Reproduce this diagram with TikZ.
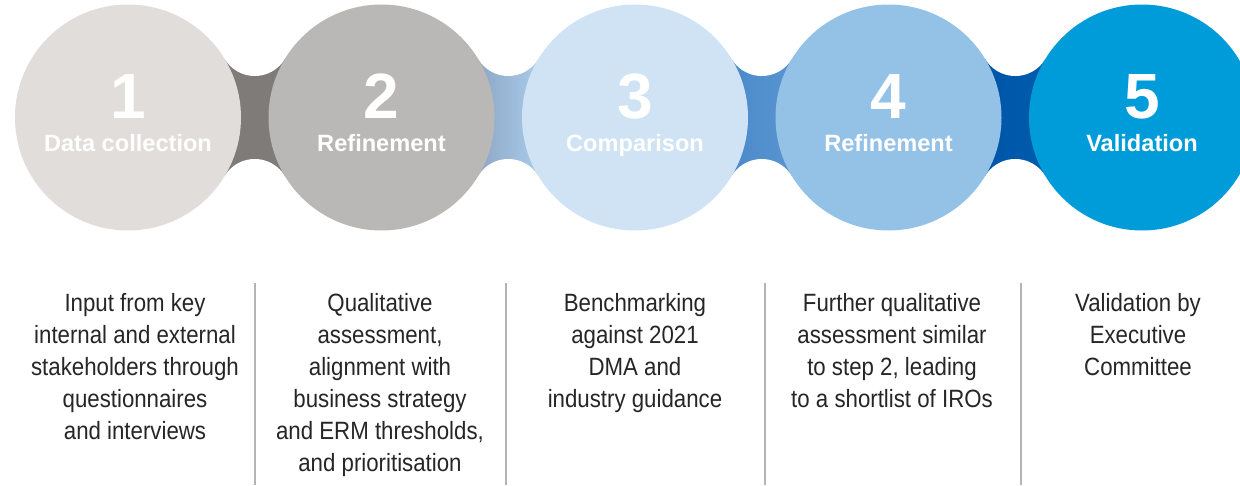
\documentclass[tikz,border=0pt]{standalone}
\usepackage{fontspec}
\setmainfont{Liberation Sans}
\newfontfamily\bodyfont[FakeStretch=0.89]{Liberation Sans}
\usetikzlibrary{calc}

\definecolor{stepA}{HTML}{E1DDDA}
\definecolor{stepB}{HTML}{B9B8B6}
\definecolor{stepC}{HTML}{D0E3F4}
\definecolor{stepD}{HTML}{94C2E7}
\definecolor{stepE}{HTML}{009BD9}
\definecolor{linkAB}{HTML}{7E7B79}
\definecolor{linkBCl}{HTML}{8EA8C6}
\definecolor{linkBCr}{HTML}{A8CAEA}
\definecolor{linkCDl}{HTML}{4B8ACB}
\definecolor{linkCDr}{HTML}{5894D0}
\definecolor{linkDEl}{HTML}{0056A8}
\definecolor{linkDEr}{HTML}{005BAD}
\definecolor{bodytext}{HTML}{262626}
\definecolor{rulegray}{HTML}{B4B4B4}

\tikzset{
  disc/.style={circle, inner sep=0pt, minimum size=226pt},
  numeral/.style={anchor=base, text=white, font=\fontsize{64}{64}\selectfont\bfseries},
  caption/.style={anchor=base, text=white, font=\fontsize{23.6}{28}\selectfont\bfseries},
  desc/.style={anchor=north, inner sep=0pt, align=center, text=bodytext,
    font=\bodyfont\fontsize{25}{32}\selectfont},
  divider/.style={draw=rulegray, line width=1.4pt},
}

% a shaded waist between two neighbouring discs, cut by white notches
\newcommand\waist[4]{%
  \shade[left color=#3, right color=#4]
    ($(#1)+(96.7,-58.4)$) rectangle ($(#2)+(-96.7,58.4)$);
  \fill[white] ($(#1)!0.5!(#2)+(0,-76.6)$) circle[radius=35.1];
  \fill[white] ($(#1)!0.5!(#2)+(0,76.6)$) circle[radius=35.1];
}

\begin{document}
\begin{tikzpicture}[x=1pt,y=-1pt]
\useasboundingbox (0,0) rectangle (1240,485);
\clip (0,0) rectangle (1240,485);
\fill[white] (0,0) rectangle (1240,485);

\coordinate (c1) at (128,117.5);
\coordinate (c2) at (381.5,117.5);
\coordinate (c3) at (635,117.5);
\coordinate (c4) at (888.5,117.5);
\coordinate (c5) at (1142,117.5);

\waist{c1}{c2}{linkAB}{linkAB}
\waist{c2}{c3}{linkBCl}{linkBCr}
\waist{c3}{c4}{linkCDl}{linkCDr}
\waist{c4}{c5}{linkDEl}{linkDEr}

\node[disc, fill=stepA] (s1) at (c1) {};
\node[disc, fill=stepB] (s2) at (c2) {};
\node[disc, fill=stepC] (s3) at (c3) {};
\node[disc, fill=stepD] (s4) at (c4) {};
\node[disc, fill=stepE] (s5) at (c5) {};

\foreach \i/\name in {1/Data collection, 2/Refinement, 3/Comparison, 4/Refinement, 5/Validation}{
  \node[numeral] (n\i) at ($(c\i)+(0,0.5)$) {\i};
  \node[caption] (t\i) at ($(c\i)+(0,33.5)$) {\name};
}

% column rules
\foreach \x [count=\k] in {255,506,765,1021}{
  \coordinate (rt\k) at (\x,283);
  \coordinate (rb\k) at (\x,485);
  \draw[divider] (rt\k) -- (rb\k);
}

% step descriptions
\node[desc] (d1) at (135,288.6) {\strut Input from key\\internal and external\\stakeholders through\\questionnaires\\and interviews};
\node[desc] (d2) at (380,288.6) {\strut Qualitative\\assessment,\\alignment with\\business strategy\\and ERM thresholds,\\and prioritisation};
\node[desc] (d3) at (635,288.6) {\strut Benchmarking\\against 2021\\DMA and\\industry guidance};
\node[desc] (d4) at (892,288.6) {\strut Further qualitative\\assessment similar\\to step 2, leading\\to a shortlist of IROs};
\node[desc] (d5) at (1138,288.6) {\strut Validation by\\Executive\\Committee};
\end{tikzpicture}
\end{document}
